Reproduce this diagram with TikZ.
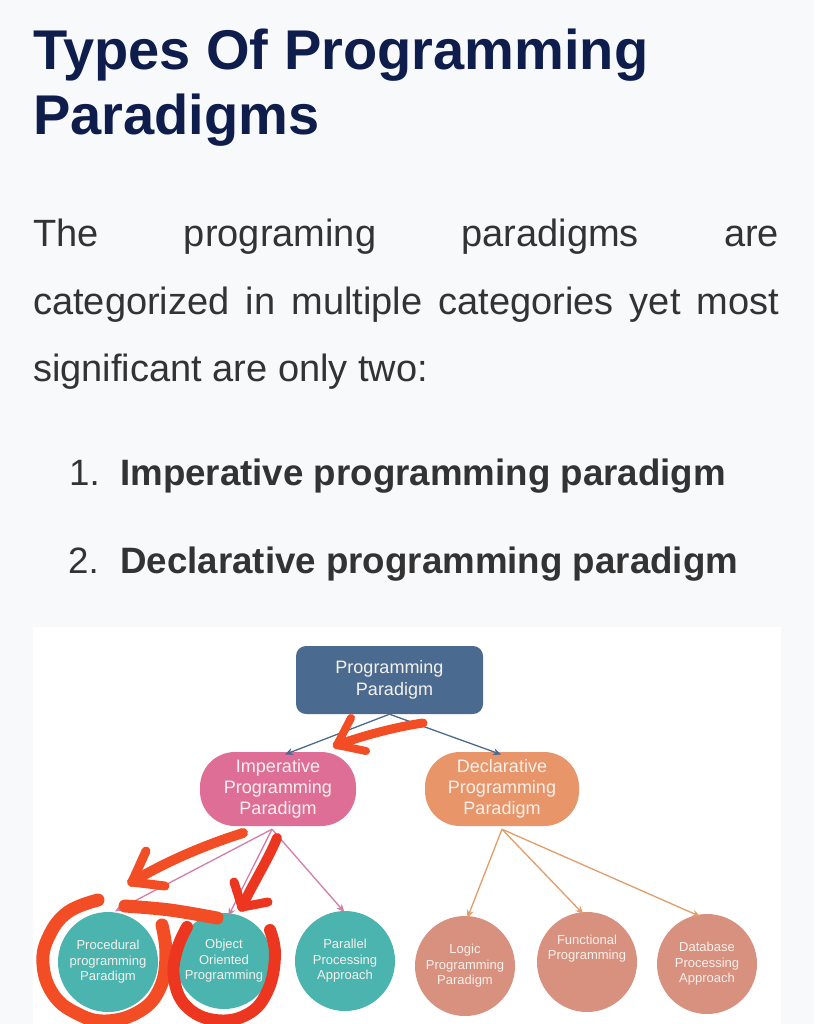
\documentclass[tikz,border=0pt]{standalone}
\usepackage{fontspec}
\setmainfont{Liberation Sans}
\usetikzlibrary{arrows.meta}
\definecolor{pagebg}{HTML}{F8F9FB}
\definecolor{titlecol}{HTML}{0E1D4C}
\definecolor{bodycol}{HTML}{333333}
\definecolor{ppblue}{HTML}{4A6A8F}
\definecolor{imppink}{HTML}{DF6E97}
\definecolor{decorange}{HTML}{E8956A}
\definecolor{tealleaf}{HTML}{4BB4AF}
\definecolor{salmonleaf}{HTML}{D8907F}
\definecolor{pinkarrow}{HTML}{D57DA8}
\definecolor{orangearrow}{HTML}{E29D6C}
\definecolor{nodetext}{HTML}{F6F1EC}
\definecolor{markred}{HTML}{F24D25}
\definecolor{markred2}{HTML}{EC3620}
\begin{document}
\begin{tikzpicture}[x=1pt,y=-1pt,
  titletext/.style={anchor=base west, inner sep=0, text=titlecol, font=\fontsize{56}{65}\selectfont\bfseries},
  bodytext/.style={anchor=base west, inner sep=0, text=bodycol, font=\fontsize{38}{67}\selectfont},
  listnum/.style={anchor=base west, inner sep=0, text=bodycol, font=\fontsize{36.7}{44}\selectfont},
  listtext/.style={anchor=base west, inner sep=0, text=bodycol, font=\fontsize{36.7}{44}\selectfont\bfseries},
  rootbox/.style={fill=ppblue, rounded corners=10pt, minimum width=187pt, minimum height=68pt, inner sep=0, text=nodetext, align=center, font=\fontsize{18}{22}\selectfont},
  midbox/.style={rounded corners=35pt, minimum width=156pt, minimum height=74pt, inner sep=0, text=nodetext, align=center, font=\fontsize{18}{21}\selectfont},
  leaf/.style={circle, minimum size=100pt, inner sep=0, text=nodetext, align=center, font=\fontsize{13}{15.5}\selectfont},
  arr/.style={-{Stealth[length=8pt,width=7pt]}, line width=1.3pt, shorten >=1pt},
  redmark/.style={draw=markred, line width=11pt, line cap=round, line join=round}
]
\useasboundingbox (0,0) rectangle (814,1024);
\fill[pagebg] (0,0) rectangle (814,1024);

% heading
\node[titletext] (t1) at (33,70) {Types Of Programming};
\node[titletext] (t2) at (33,135) {Paradigms};

% paragraph
\node[bodytext] (p1) at (33,247) {\makebox[746pt][s]{The programing paradigms are}};
\node[bodytext] (p2) at (33,314) {\makebox[746pt][s]{categorized in multiple categories yet most}};
\node[bodytext] (p3) at (33,381) {significant are only two:};

% list
\node[listnum] (n1) at (69,485) {1.};
\node[listtext] (i1) at (120,485) {Imperative programming paradigm};
\node[listnum] (n2) at (68,573) {2.};
\node[listtext] (i2) at (120,573) {Declarative programming paradigm};

% diagram panel
\fill[white] (33,627) rectangle (781,1024);

\node[rootbox] (pp) at (389.5,680) {Programming\\\ \ Paradigm};
\node[midbox, fill=imppink] (imp) at (278,789) {Imperative\\Programming\\Paradigm};
\node[midbox, fill=decorange, minimum width=154pt] (dec) at (502,789) {Declarative\\Programming\\Paradigm};

\node[leaf, fill=tealleaf] (proc) at (108,962) {Procedural\\programming\\Paradigm};
\node[leaf, fill=tealleaf, minimum size=96pt] (oo) at (224,961) {Object\\Oriented\\Programming};
\node[leaf, fill=tealleaf] (par) at (345,961) {Parallel\\Processing\\Approach};
\node[leaf, fill=salmonleaf] (logic) at (465,966) {Logic\\Programming\\Paradigm};
\node[leaf, fill=salmonleaf] (func) at (587,962) {Functional\\Programming\\[14pt]};
\node[leaf, fill=salmonleaf] (db) at (707,964) {Database\\Processing\\Approach};

\coordinate (impout) at ([xshift=-6pt,yshift=-3pt]imp.south);
\coordinate (decout) at ([yshift=-3pt]dec.south);

\draw[arr, ppblue] (pp.south) -- ([xshift=6pt,yshift=-3pt]imp.north);
\draw[arr, ppblue] (pp.south) -- ([yshift=-3pt]dec.north);
\draw[arr, pinkarrow] (impout) -- ([xshift=6pt]proc.north);
\draw[arr, pinkarrow] (impout) -- ([xshift=4pt,yshift=-4pt]oo.north);
\draw[arr, pinkarrow] (impout) -- ([yshift=-2pt]par.north);
\draw[arr, orangearrow] (decout) -- ([xshift=2pt,yshift=-3pt]logic.north);
\draw[arr, orangearrow] (decout) -- ([xshift=-3pt,yshift=-3pt]func.north);
\draw[arr, orangearrow] (decout) -- ([xshift=-6pt,yshift=-3pt]db.north);

% hand-drawn red annotations
\draw[redmark, line width=9pt] (423,723) .. controls (395,727) and (362,736) .. (337,745);
\draw[redmark, line width=8pt] (351,718) -- (337,745) -- (366,751);

\draw[redmark, line width=10pt] (243,833) .. controls (205,845) and (165,862) .. (132,882);
\draw[redmark, line width=9pt] (146,851) -- (132,882) -- (165,886);

\draw[redmark, draw=markred2, line width=10pt] (277,838) .. controls (268,860) and (252,885) .. (242,907);
\draw[redmark, draw=markred2, line width=9pt] (234,882) -- (242,907) -- (268,902);

\draw[redmark, line width=13pt] plot[smooth, tension=0.7] coordinates {(98,900) (68,912) (49,936) (43,964) (53,994) (76,1013) (106,1021) (140,1011) (160,988) (166,955) (162,925)};
\draw[redmark, line width=13pt] plot[smooth, tension=0.6] coordinates {(125,906) (170,910) (217,918)};

\draw[redmark, draw=markred2, line width=12pt] plot[smooth, tension=0.7] coordinates {(187,927) (177,950) (174,978) (186,1006) (215,1020) (248,1014) (268,990) (275,955) (270,930)};
\end{tikzpicture}
\end{document}
